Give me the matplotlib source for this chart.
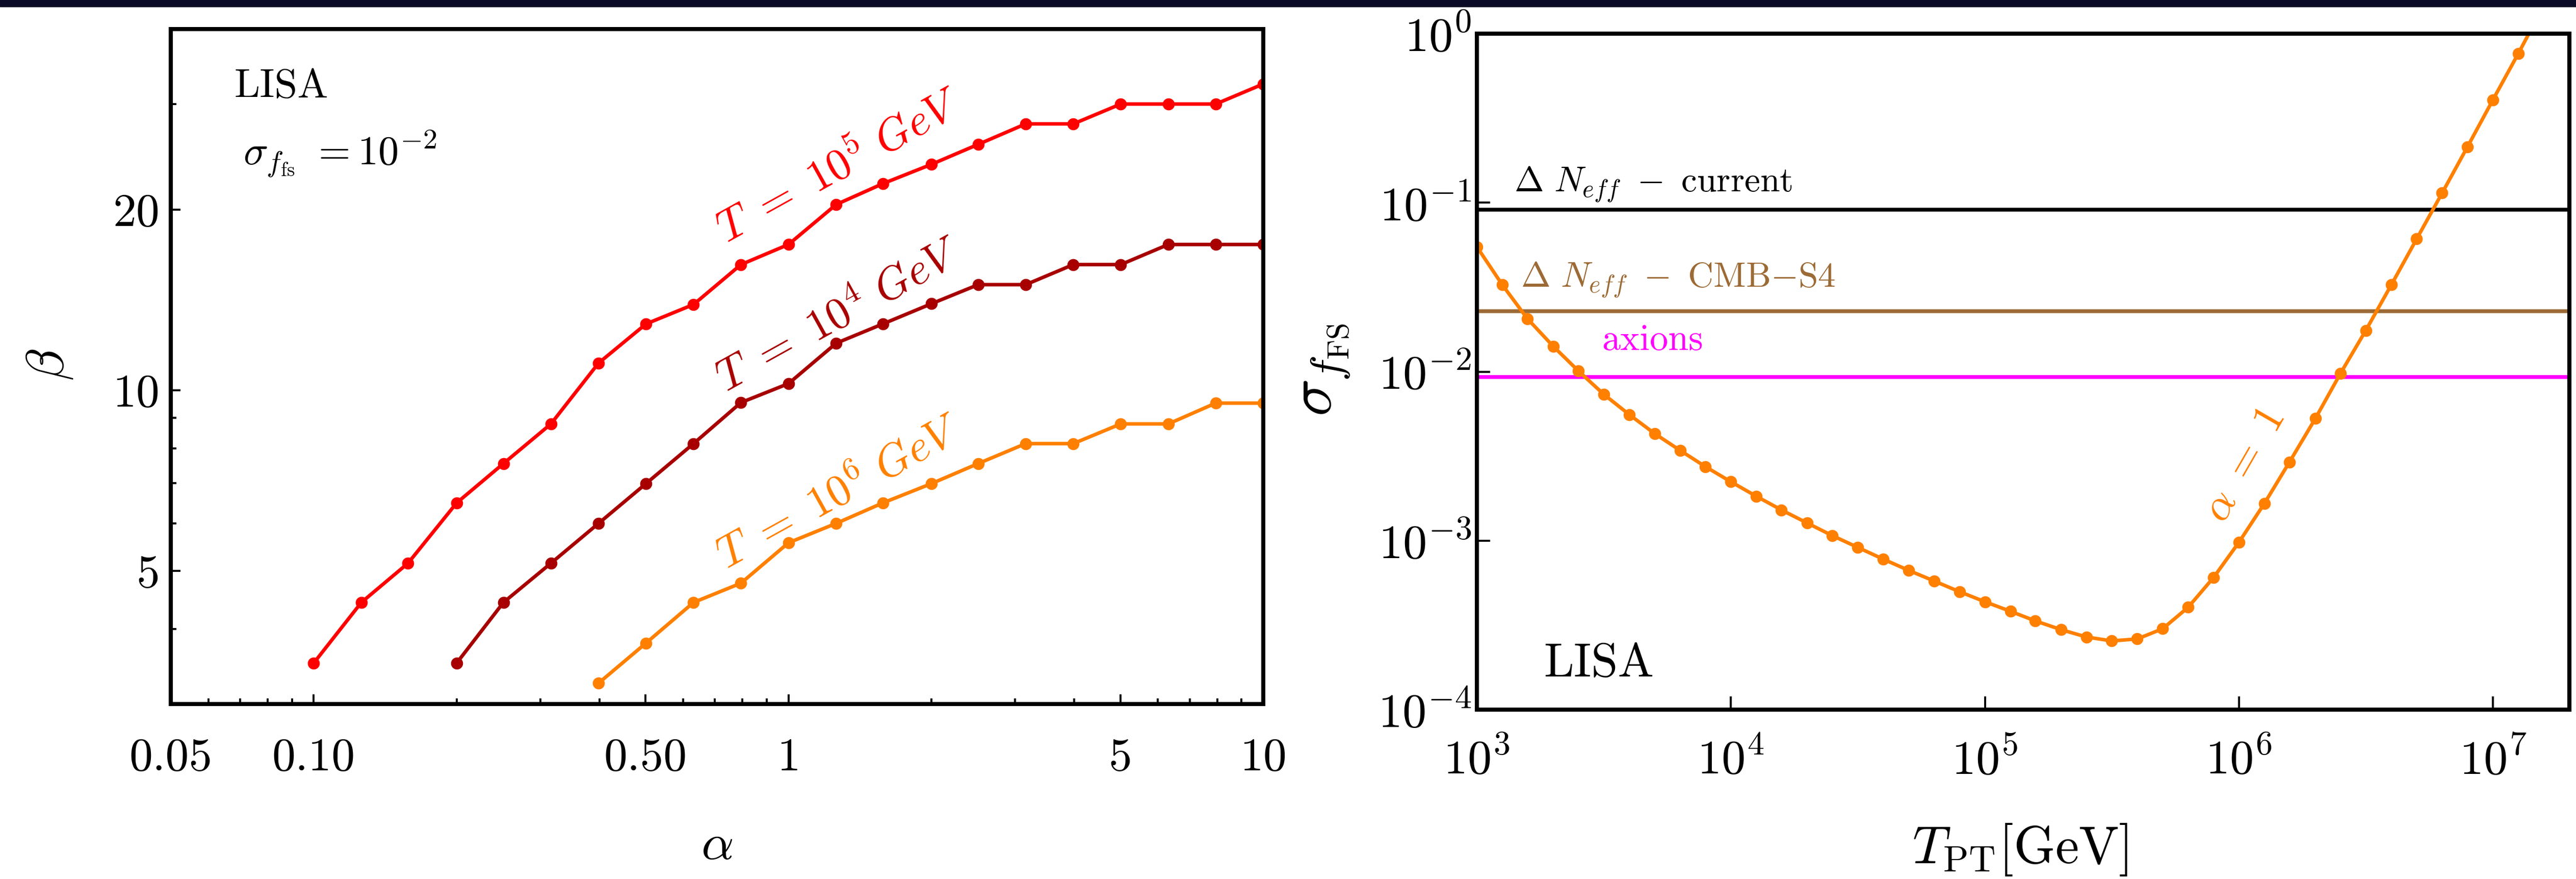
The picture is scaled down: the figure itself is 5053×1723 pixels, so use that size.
import matplotlib
matplotlib.use("Agg")
import matplotlib.pyplot as plt
from matplotlib.ticker import FixedLocator, FixedFormatter, NullLocator, NullFormatter, LogLocator
from matplotlib.patches import Rectangle

plt.rcParams['mathtext.fontset'] = 'cm'
plt.rcParams['font.family'] = 'serif'
plt.rcParams['font.serif'] = ['cmr10', 'DejaVu Serif']
plt.rcParams['axes.formatter.use_mathtext'] = True

# ---- left panel data: beta(alpha) for sigma_f = 1e-2 ----
alpha = [0.1, 0.126, 0.158, 0.2, 0.251, 0.316, 0.398, 0.501, 0.631, 0.794,
         1.0, 1.26, 1.58, 2.0, 2.51, 3.16, 3.98, 5.01, 6.31, 7.94, 10.0]
beta_T5 = [3.51, 4.43, 5.15, 6.49, 7.55, 8.79, 11.1, 12.9, 13.9, 16.2,
           17.5, 20.4, 22.1, 23.8, 25.7, 27.8, 27.8, 30.0, 30.0, 30.0, 32.4]
beta_T4 = [3.51, 4.43, 5.15, 6.0, 6.99, 8.15, 9.54, 10.26, 11.98, 12.9,
           13.94, 15.0, 15.0, 16.2, 16.2, 17.5, 17.5, 17.5]
beta_T6 = [3.25, 3.79, 4.43, 4.77, 5.57, 6.0, 6.49, 6.99, 7.55, 8.15,
           8.15, 8.79, 8.79, 9.52, 9.52]

left_xticks = [0.05, 0.1, 0.5, 1, 5, 10]
left_xticklabels = ['0.05', '0.10', '0.50', '1', '5', '10']
left_xminor = [0.06, 0.07, 0.08, 0.09, 0.2, 0.3, 0.4, 0.6, 0.7, 0.8, 0.9,
               2, 3, 4, 6, 7, 8, 9]
left_yticks = [5, 10, 20]
left_yminor = [3, 4, 6, 7, 8, 9, 30, 40]

# ---- right panel data: sigma_fFS vs T_PT for alpha = 1 ----
T_pt = [1.0e3, 1.26e3, 1.58e3, 2.0e3, 2.51e3, 3.16e3, 3.98e3, 5.01e3, 6.31e3, 7.94e3,
        1.0e4, 1.26e4, 1.58e4, 2.0e4, 2.51e4, 3.16e4, 3.98e4, 5.01e4, 6.31e4, 7.94e4,
        1.0e5, 1.26e5, 1.58e5, 2.0e5, 2.51e5, 3.16e5, 3.98e5, 5.01e5, 6.31e5, 7.94e5,
        1.0e6, 1.26e6, 1.58e6, 2.0e6, 2.51e6, 3.16e6, 3.98e6, 5.01e6, 6.31e6, 7.94e6,
        1.0e7, 1.26e7, 1.58e7]
sigma_fs = [0.0548, 0.0326, 0.0206, 0.0141, 0.0101, 0.00734, 0.00557, 0.0043, 0.00342, 0.00274,
            0.00223, 0.00183, 0.00152, 0.00127, 0.00107, 0.000912, 0.000777, 0.000667, 0.000577, 0.000499,
            0.000435, 0.000382, 0.000335, 0.000297, 0.000269, 0.000255, 0.000262, 0.000301, 0.000403, 0.000604,
            0.000977, 0.00166, 0.00291, 0.00528, 0.00975, 0.01755, 0.0326, 0.061, 0.114, 0.214,
            0.406, 0.765, 1.45]
neff_current = 0.0912
neff_cmbs4 = 0.0228
axion_limit = 0.0093

RED = '#ff0000'
DARKRED = '#a80000'
ORANGE = '#ff8000'
BROWN = '#9c6a35'
MAGENTA = '#ff00ff'

fig = plt.figure(figsize=(50.53, 17.23), dpi=100)
fig.add_artist(Rectangle((0, 1 - 13 / 1723), 1, 13 / 1723, transform=fig.transFigure,
                         color='#0a0a26', zorder=10))

W, H = 5053, 1723
ax1 = fig.add_axes([335 / W, 1 - 1380 / H, 2143 / W, 1323 / H])
ax2 = fig.add_axes([2897 / W, 1 - 1391 / H, 2143 / W, 1325 / H])

lw = 5.0
ms = 16
ax1.plot(alpha, beta_T5, '-o', color=RED, lw=lw, ms=ms)
ax1.plot(alpha[3:], beta_T4, '-o', color=DARKRED, lw=lw, ms=ms)
ax1.plot(alpha[6:], beta_T6, '-o', color=ORANGE, lw=lw, ms=ms)
ax1.set_xscale('log')
ax1.set_yscale('log')
ax1.set_xlim(0.05, 10)
ax1.set_ylim(3, 40)

ax1.xaxis.set_major_locator(FixedLocator(left_xticks))
ax1.xaxis.set_major_formatter(FixedFormatter(left_xticklabels))
ax1.xaxis.set_minor_locator(FixedLocator(left_xminor))
ax1.xaxis.set_minor_formatter(NullFormatter())
ax1.yaxis.set_major_locator(FixedLocator(left_yticks))
ax1.yaxis.set_major_formatter(FixedFormatter([str(v) for v in left_yticks]))
ax1.yaxis.set_minor_locator(FixedLocator(left_yminor))
ax1.yaxis.set_minor_formatter(NullFormatter())

ax1.tick_params(which='both', direction='in', top=False, right=False, width=2.8)
ax1.tick_params(which='major', length=14, labelsize=66)
ax1.tick_params(which='minor', length=8)
ax1.tick_params(axis='x', pad=48)
ax1.tick_params(axis='y', pad=16)

ax1.text(0.068, 32.0, 'LISA', fontsize=58, va='center', ha='left')
ax1.text(0.071, 24.8, r'$\sigma_{f_{\rm fs}}\ = 10^{-2}$', fontsize=58, va='center', ha='left')
ax1.text(1.28, 23.6, r'$T\ =\ 10^5\ GeV$', color=RED, fontsize=63, rotation=29,
         ha='center', va='center')
ax1.text(1.28, 13.3, r'$T\ =\ 10^4\ GeV$', color=DARKRED, fontsize=63, rotation=29,
         ha='center', va='center')
ax1.text(1.28, 6.75, r'$T\ =\ 10^6\ GeV$', color=ORANGE, fontsize=63, rotation=29,
         ha='center', va='center')

ax1.set_xlabel(r'$\alpha$', fontsize=72)
ax1.set_ylabel(r'$\beta$', fontsize=74)
ax1.xaxis.set_label_coords(0.4998, -0.211)
ax1.yaxis.set_label_coords(-0.1106, 0.503)
ax1.xaxis.label.set_va('center')
ax1.yaxis.label.set_va('center')

# right panel
ax2.axhline(neff_current, color='black', lw=5.4)
ax2.axhline(neff_cmbs4, color=BROWN, lw=5.4)
ax2.axhline(axion_limit, color=MAGENTA, lw=5.4)
ax2.plot(T_pt, sigma_fs, '-o', color=ORANGE, lw=lw, ms=ms)
ax2.set_xscale('log')
ax2.set_yscale('log')
ax2.set_xlim(1e3, 2e7)
ax2.set_ylim(1e-4, 1)
ax2.xaxis.set_major_locator(LogLocator(base=10, numticks=20))
ax2.yaxis.set_major_locator(LogLocator(base=10, numticks=20))
ax2.xaxis.set_minor_locator(NullLocator())
ax2.yaxis.set_minor_locator(NullLocator())
ax2.tick_params(which='major', direction='in', top=False, right=False, length=19,
                width=2.8, labelsize=68)
ax2.tick_params(axis='x', pad=40)
ax2.tick_params(axis='y', pad=8)

ax2.text(1403, 0.127, r'$\Delta\ N_{eff}\ -\ \mathrm{current}$', fontsize=50,
         va='center', ha='left', color='black')
ax2.text(1489, 0.0347, r'$\Delta\ N_{eff}\ -\ \mathrm{CMB}{-}\mathrm{S4}$', fontsize=50,
         va='center', ha='left', color=BROWN)
ax2.text(3110, 0.0153, 'axions', fontsize=52, va='center', ha='left', color=MAGENTA)
ax2.text(1829, 0.000185, 'LISA', fontsize=68, va='center', ha='left')
ax2.text(1.05e6, 0.00278, r'$\alpha\ =\ 1$', color=ORANGE, fontsize=62, rotation=60,
         ha='center', va='center')

ax2.set_xlabel(r'$T_{\rm PT}[\mathrm{GeV}]$', fontsize=75)
ax2.set_ylabel(r'$\sigma_{f_{\rm FS}}$', fontsize=88)
ax2.xaxis.set_label_coords(0.4974, -0.207)
ax2.yaxis.set_label_coords(-0.1395, 0.5026)
ax2.xaxis.label.set_va('center')
ax2.yaxis.label.set_va('center')

for ax in (ax1, ax2):
    for sp in ax.spines.values():
        sp.set_linewidth(5.8)

fig.savefig('out.png', dpi=100)
